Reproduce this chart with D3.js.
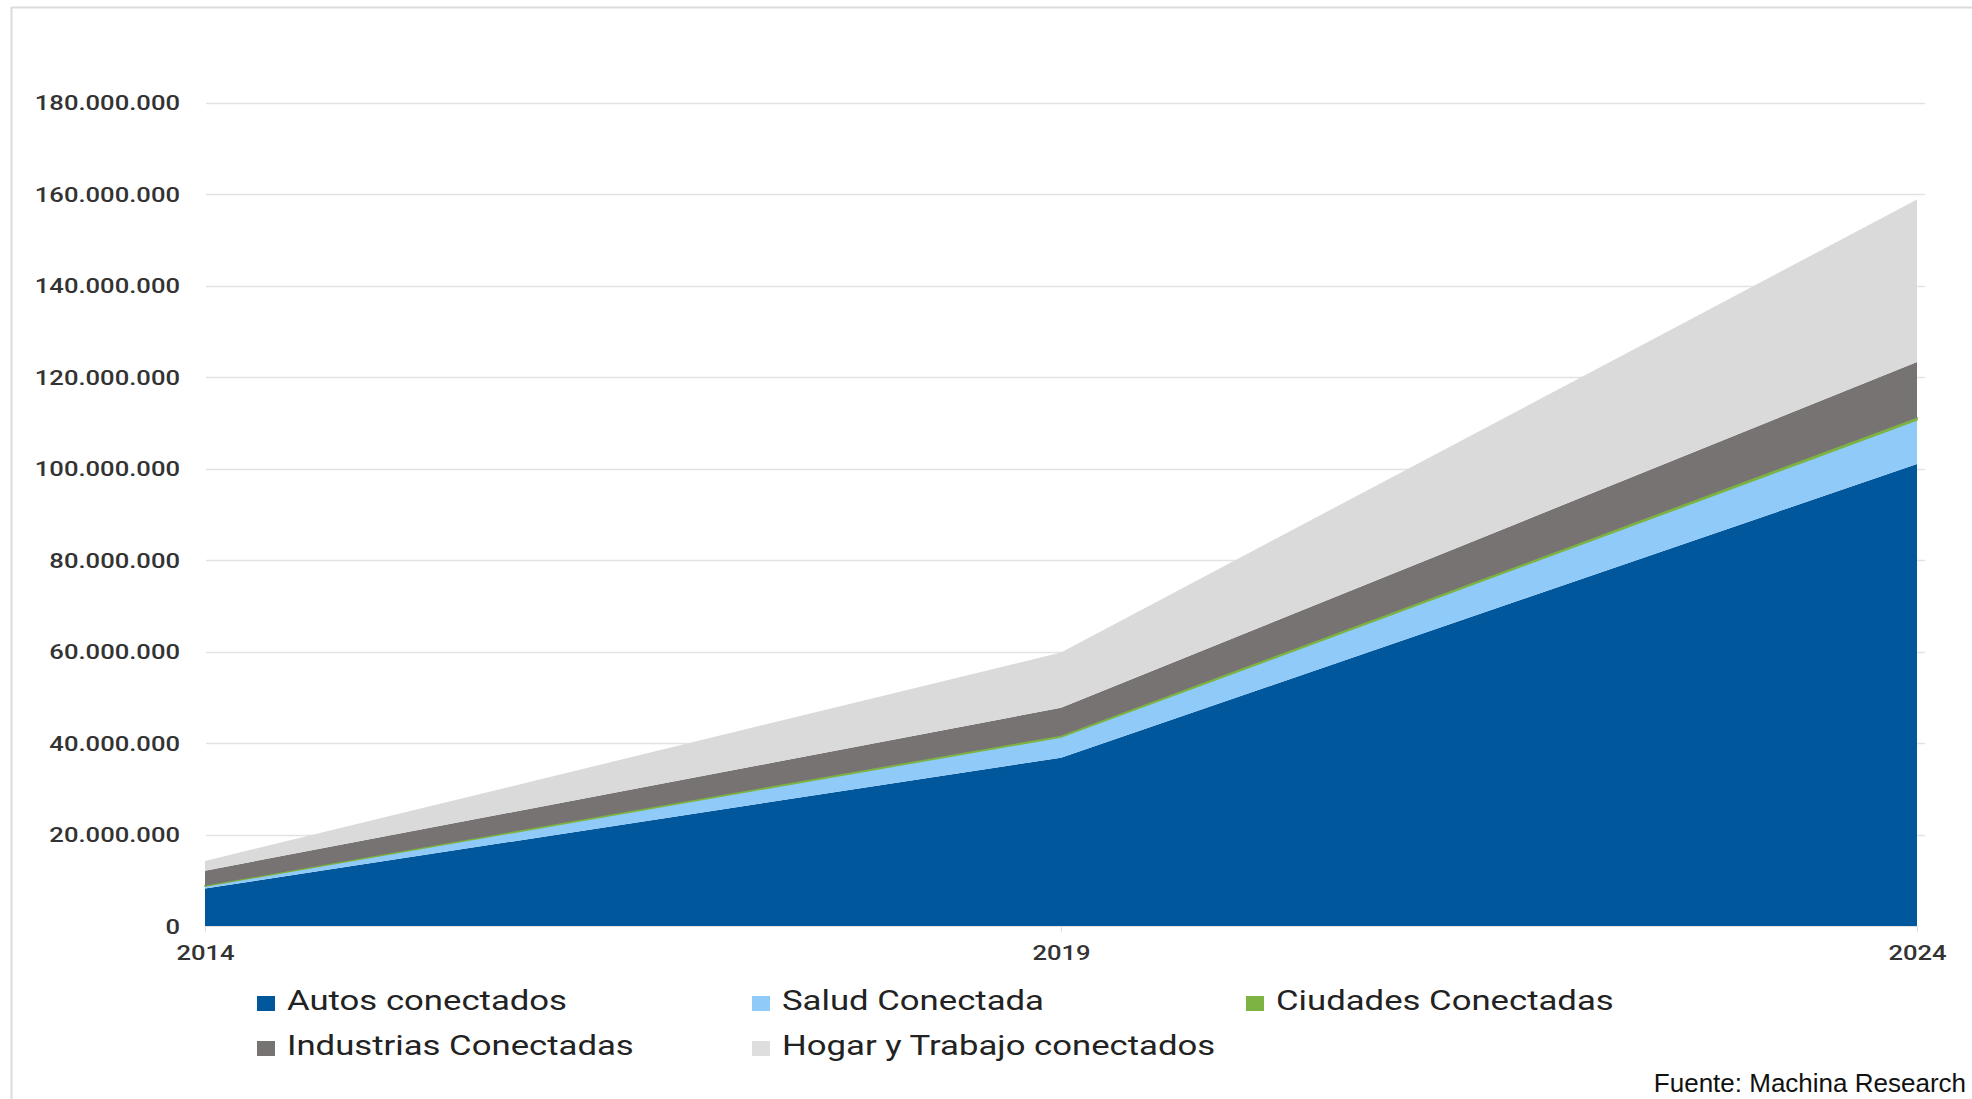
<!DOCTYPE html>
<html>
<head>
<meta charset="utf-8">
<script src="https://cdn.jsdelivr.net/npm/d3@7"></script>
<style>
  html, body { margin: 0; padding: 0; background: #fff; }
  svg { display: block; }
</style>
</head>
<body>
<svg id="chart" width="1972" height="1099"></svg>
<script>
// ---- Data ----
const years = [2014, 2019, 2024];
const autos      = [8200000, 36800000, 101000000];
const salud      = [500000, 4500000, 9600000];
const ciudades   = [100000, 300000, 500000];
const industrias = [3300000, 6100000, 12200000];
const hogar      = [2100000, 12100000, 35500000];
const seriesNames = ["Autos conectados", "Salud Conectada", "Ciudades Conectadas", "Industrias Conectadas", "Hogar y Trabajo conectados"];
const seriesColors = ["#01579b", "#90caf9", "#7cb342", "#787373", "#dadada"];
const yTicks = [0, 20000000, 40000000, 60000000, 80000000, 100000000, 120000000, 140000000, 160000000, 180000000];
const yTickLabels = ["0", "20.000.000", "40.000.000", "60.000.000", "80.000.000", "100.000.000", "120.000.000", "140.000.000", "160.000.000", "180.000.000"];
const xTickLabels = ["2014", "2019", "2024"];
const sourceText = "Fuente: Machina Research";

// ---- Layout ----
const svg = d3.select("#chart");
const W = 1972, H = 1099;
const plot = { left: 205, right: 1917, top: 102.5, bottom: 926 };
const stretch = 1.22;

// frame
svg.append("line").attr("x1", 11.5).attr("x2", W).attr("y1", 7.5).attr("y2", 7.5)
  .attr("stroke", "#dcdcdc").attr("stroke-width", 2);
svg.append("line").attr("x1", 11.5).attr("x2", 11.5).attr("y1", 7).attr("y2", H)
  .attr("stroke", "#dcdcdc").attr("stroke-width", 2);

const x = d3.scaleLinear().domain([2014, 2024]).range([plot.left, plot.right]);
const y = d3.scaleLinear().domain([0, 180000000]).range([plot.bottom, plot.top]);

// gridlines
const grid = svg.append("g").attr("class", "grid");
grid.selectAll("line").data(yTicks.slice(1)).enter().append("line")
  .attr("x1", plot.left + 1).attr("x2", 1925)
  .attr("y1", d => Math.round(y(d)) + 0.5).attr("y2", d => Math.round(y(d)) + 0.5)
  .attr("stroke", "#e2e2e2").attr("stroke-width", 1.5);

// stacked areas
const table = years.map((yr, i) => ({
  year: yr,
  [seriesNames[0]]: autos[i],
  [seriesNames[1]]: salud[i],
  [seriesNames[2]]: ciudades[i],
  [seriesNames[3]]: industrias[i],
  [seriesNames[4]]: hogar[i]
}));
const stack = d3.stack().keys(seriesNames);
const layers = stack(table);
const area = d3.area()
  .x(d => x(d.data.year))
  .y0(d => y(d[0]))
  .y1(d => y(d[1]));
svg.append("g").selectAll("path").data(layers).enter().append("path")
  .attr("d", area)
  .attr("fill", (d, i) => seriesColors[i])
  .attr("stroke", (d, i) => i === 2 ? seriesColors[i] : "none")
  .attr("stroke-width", (d, i) => i === 2 ? 1.5 : 0);

// y axis
const yAxis = d3.axisLeft(y).tickValues(yTicks).tickFormat((d, i) => yTickLabels[i]).tickSize(0);
const yg = svg.append("g").attr("transform", `translate(${plot.left - 25},0)`).call(yAxis);
yg.select(".domain").remove();
yg.selectAll("text")
  .attr("x", 0).attr("dy", null)
  .attr("dominant-baseline", "central")
  .attr("transform", `scale(${stretch},1)`)
  .attr("fill", "#333")
  .style("font-family", "Roboto, sans-serif")
  .style("font-size", "21px")
  .style("font-weight", 500);

// x axis
const xAxis = d3.axisBottom(x).tickValues(years).tickFormat((d, i) => xTickLabels[i]).tickSize(6).tickPadding(0);
const xg = svg.append("g").attr("transform", `translate(0,${plot.bottom})`).call(xAxis);
xg.select(".domain").attr("stroke", "#e0e0e0").attr("stroke-width", 1);
xg.selectAll(".tick line").attr("stroke", "#e0e0e0");
xg.selectAll("text")
  .attr("y", 0).attr("dy", null)
  .attr("transform", `translate(0,34) scale(${stretch},1)`)
  .attr("fill", "#333")
  .style("font-family", "Roboto, sans-serif")
  .style("font-size", "21px")
  .style("font-weight", 500);

// legend
const legendPos = [
  { x: 257, y: 1010 }, { x: 752, y: 1010 }, { x: 1246, y: 1010 },
  { x: 257, y: 1055 }, { x: 752, y: 1055 }
];
const lg = svg.append("g").selectAll("g").data(seriesNames).enter().append("g")
  .attr("transform", (d, i) => `translate(${legendPos[i].x},${legendPos[i].y})`);
lg.append("rect").attr("x", 0).attr("y", -14).attr("width", 18).attr("height", 15)
  .attr("fill", (d, i) => i === 4 ? "#dedede" : seriesColors[i]);
lg.append("text")
  .attr("transform", `translate(30,0) scale(1.24,1)`)
  .attr("fill", "#222")
  .style("font-family", "Roboto, sans-serif")
  .style("font-size", "28px")
  .text(d => d);

// source
svg.append("text")
  .attr("x", 1966).attr("y", 1092)
  .attr("text-anchor", "end")
  .attr("fill", "#111")
  .style("font-family", "'Liberation Sans', Arial, sans-serif")
  .style("font-size", "26px")
  .text(sourceText);
</script>
</body>
</html>
